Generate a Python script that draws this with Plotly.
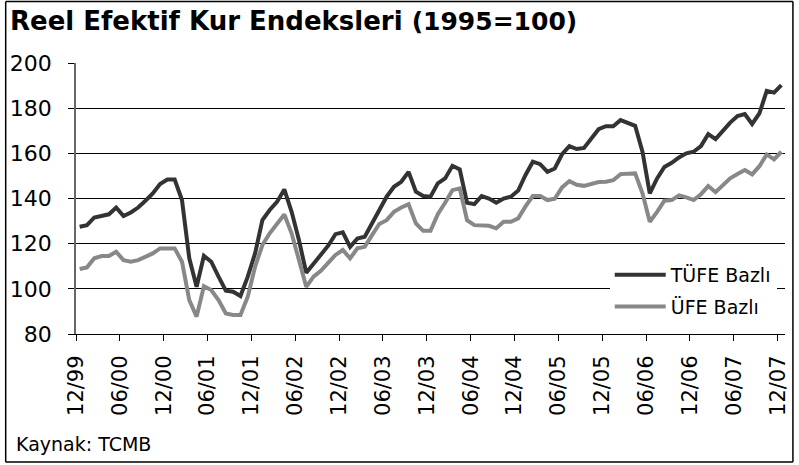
import plotly.graph_objects as go

# Monthly data, 12/1999 .. 12/2007 (97 months)
months = [f"{m:02d}/{y % 100:02d}" for y in range(1999, 2008) for m in range(1, 13)][11:]

tufe = [127.5, 128.2, 131.6, 132.2, 133.0, 136.0, 132.2, 133.8, 136.0, 139.0,
        142.2, 146.4, 148.4, 148.4, 139.3, 113.5, 100.9, 114.6, 112.0, 105.4,
        99.2, 98.7, 96.8, 105.4, 115.7, 130.4, 134.9, 138.5, 144.0, 134.1,
        121.6, 107.1, 111.3, 115.0, 119.1, 124.2, 125.0, 118.6, 122.3, 123.1,
        129.0, 135.6, 140.8, 145.2, 147.4, 151.8, 143.0, 141.1, 140.8, 146.7,
        148.9, 154.5, 152.9, 138.1, 137.5, 141.1, 140.0, 138.1, 140.0, 140.8,
        143.5, 150.4, 156.3, 155.2, 151.8, 153.3, 159.6, 163.2, 161.9, 162.4,
        166.3, 170.7, 172.0, 172.0, 174.7, 173.6, 172.2, 160.7, 142.3, 148.9,
        154.0, 155.8, 158.2, 160.0, 160.7, 163.2, 168.5, 166.3, 170.0, 173.6,
        176.5, 177.4, 173.0, 177.7, 187.7, 186.9, 190.2]

ufe = [108.8, 109.5, 113.5, 114.5, 114.5, 116.4, 112.7, 112.0, 112.7, 114.2,
       115.7, 117.9, 117.9, 117.9, 112.0, 95.0, 87.7, 101.2, 99.5, 95.0,
       89.1, 88.4, 88.4, 96.5, 109.8, 119.4, 124.6, 129.0, 132.9, 124.6,
       112.7, 100.9, 105.4, 108.0, 111.5, 115.0, 117.2, 113.5, 117.9, 118.6,
       123.8, 128.7, 130.4, 134.1, 136.0, 137.5, 129.0, 125.7, 125.7, 133.1,
       138.1, 143.7, 144.5, 130.4, 128.2, 127.9, 127.9, 126.8, 129.7, 129.7,
       131.2, 136.5, 141.1, 141.1, 139.3, 139.9, 144.9, 147.7, 146.1, 145.6,
       146.4, 147.3, 147.4, 148.1, 150.8, 151.1, 151.1, 142.3, 129.7, 134.1,
       139.0, 139.3, 141.4, 140.5, 139.3, 141.9, 145.5, 142.8, 145.6, 148.9,
       150.8, 152.6, 150.7, 154.3, 159.5, 157.3, 160.7]

tick_labels = ["12/99", "06/00", "12/00", "06/01", "12/01", "06/02", "12/02",
               "06/03", "12/03", "06/04", "12/04", "06/05", "12/05", "06/06",
               "12/06", "06/07", "12/07"]

series_names = ["TÜFE Bazlı", "ÜFE Bazlı"]

x = list(range(len(months)))
tickvals = [months.index(t) - 0.5 for t in tick_labels]

FONT = "DejaVu Sans"

fig = go.Figure()
fig.add_trace(go.Scatter(x=x, y=tufe, mode="lines", name=series_names[0],
                         legendgroup="a",
                         line=dict(color="#333333", width=4),
                         customdata=months))
fig.add_trace(go.Scatter(x=x, y=ufe, mode="lines", name=series_names[1],
                         legendgroup="b",
                         line=dict(color="#888888", width=4),
                         customdata=months))

L, R, T, B = 73, 10, 63, 131
W, H = 799, 465
pw, ph = W - L - R, H - T - B

def px_x(p):
    return (p - L) / pw

def px_y(p):
    return (H - B - p) / ph

frame = dict(color="black", width=1.5)
fx0, fx1, fy0, fy1 = px_x(2), px_x(797), px_y(462), px_y(1.5)

fig.update_layout(
    width=W, height=H,
    margin=dict(l=L, r=R, t=T, b=B),
    paper_bgcolor="white", plot_bgcolor="white",
    font=dict(family=FONT, color="black"),
    title=dict(
        text="<b>Reel Efektif Kur Endeksleri <span style='font-size:25px'>(1995=100)</span></b>",
        font=dict(family=FONT, size=26, color="black"),
        xref="container", yref="container",
        x=10 / W, xanchor="left", y=1 - 12 / H, yanchor="top", pad=dict(t=0, l=0)),
    xaxis=dict(
        range=[-0.5, len(months) - 0.5],
        tickmode="array", tickvals=tickvals, ticktext=tick_labels,
        tickangle=-90, tickfont=dict(family=FONT, size=21, color="black"),
        ticks="outside", ticklen=6, tickcolor="black", tickwidth=1,
        showline=True, linecolor="black", linewidth=1,
        showgrid=False, zeroline=False, ticklabelstandoff=6),
    yaxis=dict(
        range=[80, 200], tickmode="array", tickvals=[80, 100, 120, 140, 160, 180, 200],
        tickfont=dict(family=FONT, size=22, color="black"),
        ticks="outside", ticklen=6, tickcolor="black", tickwidth=1,
        showline=True, linecolor="#666666", linewidth=1.5,
        showgrid=True, gridcolor="black", gridwidth=1,
        zeroline=False, ticklabelstandoff=12),
    legend=dict(
        x=px_x(612), y=px_y(256), xanchor="left", yanchor="top",
        bgcolor="white", borderwidth=0,
        font=dict(family=FONT, size=19, color="black"),
        itemwidth=51, traceorder="grouped", tracegroupgap=4),
    showlegend=True,
    annotations=[dict(
        text="Kaynak: TCMB", xref="paper", yref="paper",
        x=px_x(10), y=px_y(457), xanchor="left", yanchor="bottom",
        showarrow=False, font=dict(family=FONT, size=19, color="black"))],
    shapes=[
        dict(type="line", xref="paper", yref="paper", x0=fx0, x1=fx1, y0=fy1, y1=fy1, line=frame, layer="above"),
        dict(type="line", xref="paper", yref="paper", x0=fx0, x1=fx1, y0=fy0, y1=fy0, line=frame, layer="above"),
        dict(type="line", xref="paper", yref="paper", x0=fx0, x1=fx0, y0=fy0, y1=fy1, line=frame, layer="above"),
        dict(type="line", xref="paper", yref="paper", x0=fx1, x1=fx1, y0=fy0, y1=fy1, line=frame, layer="above"),
    ],
)

fig.write_html("out.html", config={"displayModeBar": False},
               post_script="document.body.style.margin='0';")
